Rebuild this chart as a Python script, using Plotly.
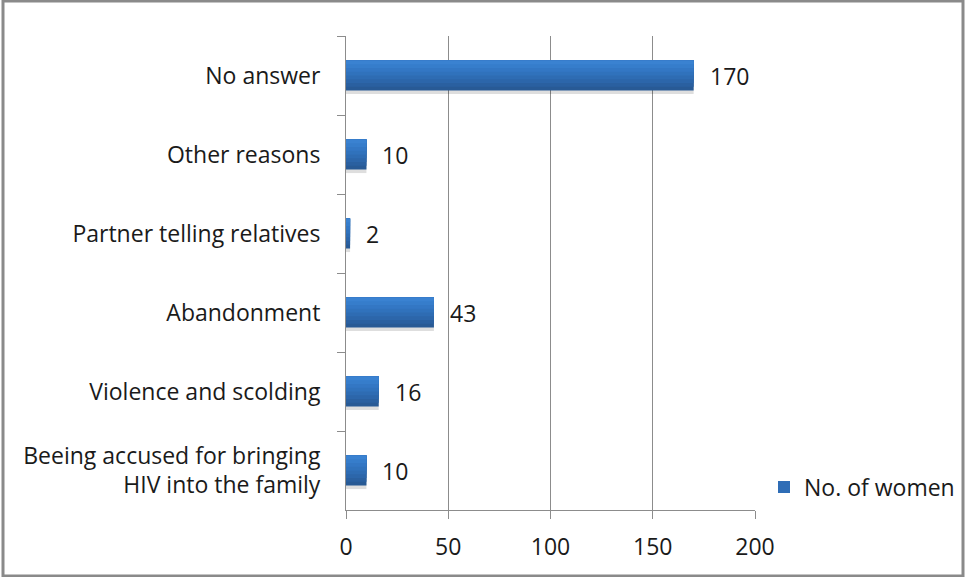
import plotly.graph_objects as go

# Reasons reported (top to bottom) and number of women
categories = [
    "No answer",
    "Other reasons",
    "Partner telling relatives",
    "Abandonment",
    "Violence and scolding",
    "Beeing accused for bringing<br>HIV into the family",
]
values = [170, 10, 2, 43, 16, 10]
series_name = "No. of women"
x_ticks = [0, 50, 100, 150, 200]

W, H = 965, 577
L, R, T, B = 346, 210, 36, 67
FONT = "Open Sans"
FS = 23
TXT = "#1a1a1a"
GRID = "#8c8c8c"

fig = go.Figure()

bar_w = 0.38
top = -bar_w / 2

# soft drop shadow under each bar
fig.add_trace(go.Bar(
    y=categories, x=values, orientation="h",
    width=bar_w, offset=top + 0.045,
    marker=dict(color="rgba(0,0,0,0.13)", line=dict(width=0)),
    showlegend=False, hoverinfo="skip",
))

# vertical gradient: dark base, progressively lighter strips toward the top edge
shades = ["#285a95", "#2a60a0", "#2c66aa", "#2e6cb3", "#3072bc", "#3377c4", "#367dcb", "#3a82d1"]
n = len(shades)
for k, c in enumerate(shades):
    fig.add_trace(go.Bar(
        y=categories, x=values, orientation="h",
        width=bar_w * (1 - k / n), offset=top,
        marker=dict(color=c, line=dict(width=0)),
        name=series_name, showlegend=False, hoverinfo="skip",
    ))

# legend entry
fig.add_trace(go.Bar(
    y=[None], x=[None], orientation="h", name=series_name,
    marker=dict(color="#2f6db6", line=dict(width=0)), showlegend=True,
))

# value labels to the right of each bar
for cat, v in zip(categories, values):
    fig.add_annotation(
        x=v, y=cat, text=str(v), showarrow=False,
        xanchor="left", yanchor="middle", xshift=14,
        font=dict(family=FONT, size=FS, color=TXT),
    )

# outer chart frame
fig.add_shape(
    type="rect", xref="paper", yref="paper",
    x0=(3 - L) / (W - L - R), x1=(963 - L) / (W - L - R),
    y0=(H - B - 576) / (H - T - B), y1=(H - B - 1) / (H - T - B),
    line=dict(color="#8a8a8a", width=3), fillcolor="rgba(0,0,0,0)", layer="below",
)

fig.update_layout(
    width=W, height=H,
    margin=dict(l=L, r=R, t=T, b=B, autoexpand=False),
    paper_bgcolor="white", plot_bgcolor="white",
    barmode="overlay",
    font=dict(family=FONT, size=FS, color=TXT),
    showlegend=True,
    legend=dict(
        x=(764 - L) / (W - L - R), y=(H - B - 487) / (H - T - B),
        xanchor="left", yanchor="middle",
        font=dict(family=FONT, size=FS, color=TXT),
        bgcolor="rgba(0,0,0,0)", itemwidth=30,
    ),
    xaxis=dict(
        range=[0, 200], tickvals=x_ticks,
        showgrid=True, gridcolor=GRID, gridwidth=1,
        zeroline=False, showline=True, linecolor=GRID, linewidth=1,
        ticks="outside", ticklen=8, tickcolor=GRID,
        ticklabelstandoff=8,
    ),
    yaxis=dict(
        autorange="reversed", type="category",
        showgrid=False, zeroline=False,
        showline=True, linecolor=GRID, linewidth=1,
        ticks="outside", ticklen=8, tickcolor=GRID, tickson="boundaries",
        ticklabelstandoff=20,
    ),
)

fig.write_html("out.html")
